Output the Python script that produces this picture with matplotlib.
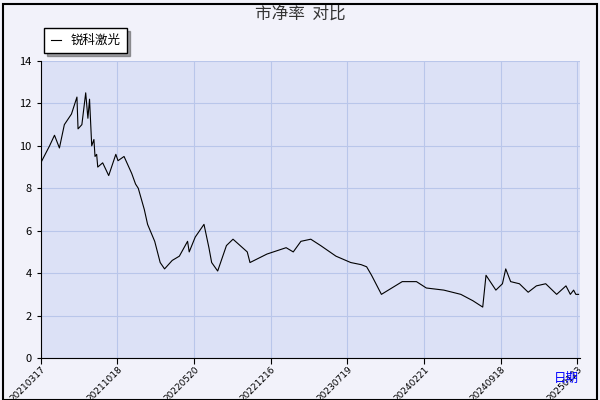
import matplotlib
matplotlib.use("Agg")
import matplotlib.pyplot as plt
from matplotlib.patches import Rectangle

plt.rcParams['font.family'] = ['Noto Sans CJK SC', 'DejaVu Sans']

tick_labels = ["20210317", "20211018", "20220520", "20221216", "20230719", "20240221", "20240918", "20250123"]
day_index = [0, 16, 25, 34, 43, 56, 66, 68, 75, 82, 86, 89, 93, 97, 99, 102, 104, 113, 124, 137, 141, 152, 166, 173, 178, 189,
             195, 208, 218, 226, 240, 253, 268, 271, 282, 298, 307, 312, 323, 339, 351, 377, 382, 413, 448, 461, 475, 493,
             511, 539, 566, 585, 595, 604, 622, 660, 686, 704, 736, 767, 789, 807, 813, 831, 843, 849, 858, 874, 890, 905, 922,
             942, 959, 967, 973, 977, 982]
pb = [9.2, 10.0, 10.5, 9.9, 11.0, 11.5, 12.3, 10.8, 11.0, 12.5, 11.3, 12.2, 10.0, 10.3, 9.5, 9.6, 9.0, 9.2, 8.6, 9.6, 9.3, 9.5,
      8.7, 8.2, 8.0, 7.0, 6.3, 5.5, 4.5, 4.2, 4.6, 4.8, 5.5, 5.0, 5.7, 6.3, 5.2, 4.5, 4.1, 5.3, 5.6, 5.0, 4.5, 4.9, 5.2,
      5.0, 5.5, 5.6, 5.3, 4.8, 4.5, 4.4, 4.3, 3.9, 3.0, 3.6, 3.6, 3.3, 3.2, 3.0, 2.7, 2.4, 3.9, 3.2, 3.5, 4.2, 3.6, 3.5,
      3.1, 3.4, 3.5, 3.0, 3.4, 3.0, 3.2, 3.0, 3.0]

fig = plt.figure(figsize=(6, 4), dpi=100, facecolor='#f2f2fa')
fig.patches.append(Rectangle((0.005, 0.0), 0.99, 0.99, transform=fig.transFigure, fill=False, edgecolor='black', lw=1.5))
ax = fig.add_axes([0.068, 0.105, 0.899, 0.7425])
ax.set_facecolor('#dce1f6')
ax.plot(day_index, pb, color='black', lw=0.8, label='锐科激光')
ax.set_xlim(0, 985)
ax.set_ylim(0, 14)
ax.set_yticks(range(0, 15, 2))
ax.set_xticks([i * 140 for i in range(8)])
ax.set_xticklabels(tick_labels, rotation=45, ha='right', rotation_mode='anchor', fontsize=6.5, family=['DejaVu Sans'])
ax.tick_params(axis='y', labelsize=8, length=3)
ax.tick_params(axis='x', length=4, pad=1)
ax.grid(color='#b9c6ea', lw=0.8)
for s in ['top', 'right']:
    ax.spines[s].set_visible(False)
fig.text(0.5, 0.965, '市净率  对比', ha='center', va='center', fontsize=12, color='#333333')
fig.text(0.965, 0.055, '日期', ha='right', va='center', fontsize=9, color='blue')
leg = ax.legend(loc='lower left', bbox_to_anchor=(-0.005, 1.005), frameon=True, fancybox=False, edgecolor='black',
                fontsize=9, handlelength=0.8, shadow=True, borderpad=0.5)
fig.savefig('out.png', dpi=100, facecolor=fig.get_facecolor())
